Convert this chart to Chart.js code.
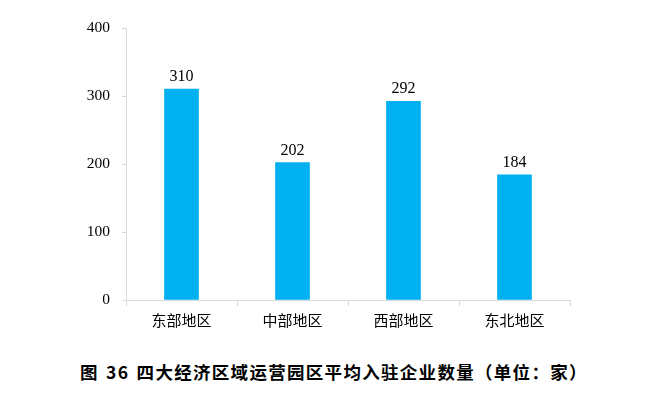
<!DOCTYPE html>
<html><head><meta charset="utf-8">
<script src="https://cdn.jsdelivr.net/npm/chart.js@4/dist/chart.umd.min.js"></script>
<style>
html,body{margin:0;padding:0;background:#fff;}
#wrap{position:absolute;left:0;top:0;width:660px;height:345px;}
#title{position:absolute;left:80px;top:359px;white-space:nowrap;font:bold 17.5px "Noto Sans CJK SC";color:#000;line-height:26px;letter-spacing:1.3px;word-spacing:2px;}
</style></head>
<body>
<div id="wrap"><canvas id="c"></canvas></div>
<div id="title">图 36 四大经济区域运营园区平均入驻企业数量（单位：家）</div>
<script>
const categories = ["东部地区","中部地区","西部地区","东北地区"];
const values = [310, 202, 292, 184];
const yTicks = [0, 100, 200, 300, 400];

const labelPlugin = {
  id: 'vlabels',
  afterDatasetsDraw(chart) {
    const ctx = chart.ctx;
    const meta = chart.getDatasetMeta(0);
    ctx.save();
    ctx.font = '16px "Liberation Serif"';
    ctx.fillStyle = '#000';
    ctx.textAlign = 'center';
    ctx.textBaseline = 'alphabetic';
    meta.data.forEach((bar, i) => {
      ctx.fillText(String(values[i]), bar.x, bar.y - 8);
    });
    ctx.restore();
  }
};

new Chart(document.getElementById('c'), {
  type: 'bar',
  data: {
    labels: categories,
    datasets: [{ data: values, backgroundColor: '#00B0F0', barThickness: 34 }]
  },
  options: {
    responsive: true,
    maintainAspectRatio: false,
    animation: false,
    layout: { padding: { top: 28, right: 90, left: 0, bottom: 0 } },
    plugins: { legend: { display: false }, tooltip: { enabled: false } },
    scales: {
      x: {
        grid: { display: true, drawOnChartArea: false, drawTicks: true, tickLength: 6, color: '#d9d9d9', offset: true },
        border: { display: true, color: '#d9d9d9', width: 1 },
        ticks: { color: '#000', padding: 5, font: { family: '"Noto Sans CJK SC"', size: 15 } },
        afterFit(s) { s.height = 45; }
      },
      y: {
        min: 0, max: 400,
        afterBuildTicks(s) { s.ticks = yTicks.map(v => ({ value: v })); },
        grid: { display: true, drawOnChartArea: false, drawTicks: true, tickLength: 4, color: '#d9d9d9' },
        border: { display: true, color: '#d9d9d9', width: 1 },
        ticks: { color: '#000', padding: 12, font: { family: '"Liberation Serif"', size: 15.5 } },
        afterFit(s) { s.width = 126; }
      }
    }
  },
  plugins: [labelPlugin]
});
</script>
</body></html>
